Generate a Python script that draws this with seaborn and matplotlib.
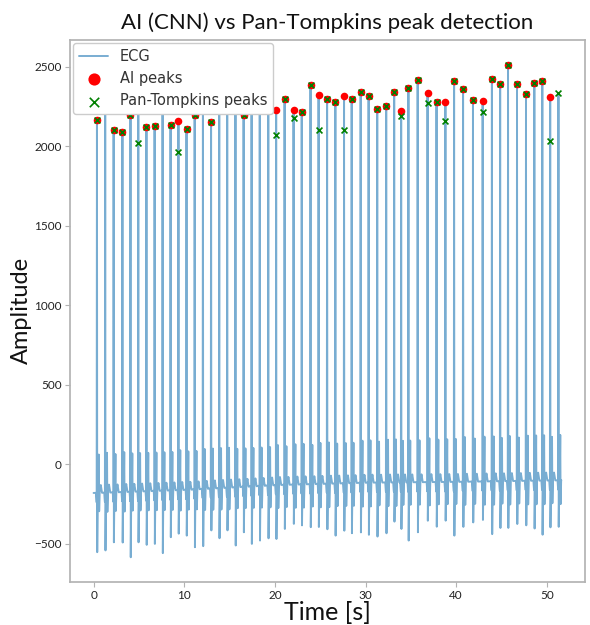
import numpy as np
import pandas as pd
import matplotlib
matplotlib.use("Agg")
import matplotlib.pyplot as plt
import seaborn as sns

# ---- data ----
beat_times = [0.37, 1.28, 2.21, 3.18, 4.07, 4.93, 5.83, 6.73, 7.61, 8.49, 9.36, 10.25, 11.15, 12.06,
              12.96, 13.86, 14.74, 15.65, 16.55, 17.43, 18.33, 19.27, 20.14, 21.07, 22.06, 22.96,
              23.93, 24.82, 25.76, 26.67, 27.63, 28.47, 29.46, 30.34, 31.29, 32.28, 33.16, 33.93,
              34.73, 35.75, 36.84, 37.83, 38.81, 39.77, 40.76, 41.85, 42.92, 43.94, 44.85, 45.72,
              46.71, 47.70, 48.62, 49.50, 50.37, 51.28]

r_peak_amp = [2167, 2260, 2099, 2086, 2195, 2270, 2119, 2125, 2300, 2131, 2159, 2109, 2195, 2280,
              2154, 2290, 2310, 2270, 2196, 2300, 2320, 2290, 2225, 2299, 2229, 2212, 2382, 2319,
              2299, 2276, 2312, 2296, 2337, 2312, 2234, 2250, 2337, 2219, 2365, 2415, 2334, 2279,
              2279, 2406, 2359, 2292, 2281, 2419, 2392, 2512, 2390, 2325, 2398, 2409, 2309, 2331]

ai_peak_amp = r_peak_amp[:55] + [np.nan]

pt_peak_amp = [2167, 2260, 2099, 2086, 2195, 2017, 2119, 2125, 2300, 2131, 1962, 2109, 2195, 2280,
               2154, 2290, 2310, 2270, 2196, 2300, 2320, 2290, 2068, 2299, 2176, 2212, 2382, 2101,
               2299, 2276, 2102, 2296, 2337, 2312, 2234, 2250, 2337, 2192, 2365, 2415, 2269, 2279,
               2159, 2406, 2359, 2292, 2215, 2419, 2392, 2512, 2390, 2325, 2398, 2409, 2031, 2331]

s_trough_amp = [-552, -558, -490, -506, -584, -490, -506, -500, -558, -458, -448, -448, -521, -531,
                -427, -479, -427, -510, -427, -500, -479, -465, -485, -406, -385, -395, -395, -406,
                -421, -448, -417, -433, -442, -458, -454, -448, -371, -406, -479, -427, -365, -392,
                -354, -448, -406, -365, -360, -454, -400, -413, -375, -396, -417, -458, -396, -406]

anchor_times = [0, 10, 20, 30, 40, 51.5]
baseline_amp = [-180, -160, -130, -115, -110, -100]
second_up_amp = [70, 90, 120, 150, 170, 185]
second_down_amp = [-300, -290, -275, -265, -255, -250]

ecg_end = 51.6
fs = 250

# ---- build ECG trace from read keypoints ----
kt, kv = [0.0], [baseline_amp[0]]
for bt, r, s in zip(beat_times, r_peak_amp, s_trough_amp):
    b = float(np.interp(bt, anchor_times, baseline_amp))
    up = float(np.interp(bt, anchor_times, second_up_amp))
    dn = float(np.interp(bt, anchor_times, second_down_amp))
    pts = [(-0.10, b), (-0.03, b - 60), (0.0, r), (0.03, s), (0.07, b - 40),
           (0.15, b + 15), (0.20, up), (0.24, dn), (0.29, b), (0.42, b + 50), (0.55, b)]
    for dt, v in pts:
        tt = bt + dt
        if 0 < tt < ecg_end and tt > kt[-1]:
            kt.append(tt)
            kv.append(v)
kt.append(ecg_end)
kv.append(float(np.interp(ecg_end, anchor_times, baseline_amp)))
t = np.arange(0, ecg_end, 1.0 / fs)
t = np.union1d(t, np.array(beat_times))
ecg = np.interp(t, kt, kv)

ecg_df = pd.DataFrame({"Time": t, "Amplitude": ecg})
ai_df = pd.DataFrame({"Time": beat_times, "Amplitude": ai_peak_amp}).dropna()
pt_df = pd.DataFrame({"Time": beat_times, "Amplitude": pt_peak_amp}).dropna()

# ---- style ----
sns.set_theme(style="white")
plt.rcParams["font.family"] = ["DejaVu Sans"]
plt.rcParams["axes.edgecolor"] = "#b3b3b3"
plt.rcParams["xtick.color"] = "#b3b3b3"
plt.rcParams["ytick.color"] = "#b3b3b3"
plt.rcParams["xtick.labelcolor"] = "#222222"
plt.rcParams["ytick.labelcolor"] = "#222222"
plt.rcParams["xtick.bottom"] = True
plt.rcParams["ytick.left"] = True

fig, ax = plt.subplots(figsize=(5.9, 6.25), dpi=100)
fig.subplots_adjust(left=0.119, right=0.991, top=0.936, bottom=0.069)

sns.lineplot(data=ecg_df, x="Time", y="Amplitude", ax=ax, color="#1f77b4", alpha=0.6,
             linewidth=1.4, label="ECG", estimator=None, sort=False)
sns.scatterplot(data=ai_df, x="Time", y="Amplitude", ax=ax, color="red", s=30,
                linewidth=0, label="AI peaks", zorder=3)
sns.scatterplot(data=pt_df, x="Time", y="Amplitude", ax=ax, color="green", marker="x", s=18,
                linewidth=1.2, label="Pan-Tompkins peaks", zorder=4)

ax.set_title("AI (CNN) vs Pan-Tompkins peak detection", fontsize=16, family="Lato",
             color="#111111", pad=8)
ax.set_xlabel("Time [s]", fontsize=18, family="Lato", color="#111111", labelpad=0)
ax.set_ylabel("Amplitude", fontsize=17, family="Lato", color="#111111", labelpad=1.5)
ax.tick_params(axis="both", labelsize=8.5, length=3.5, width=0.8, pad=2.5)
for lab in ax.get_xticklabels() + ax.get_yticklabels():
    lab.set_family("Lato")

leg = ax.legend(loc="upper left", markerscale=1.6, fontsize=10.5, framealpha=1,
                borderaxespad=0.2)
for txt in leg.get_texts():
    txt.set_color("#333333")

fig.savefig("out.png", dpi=100)
